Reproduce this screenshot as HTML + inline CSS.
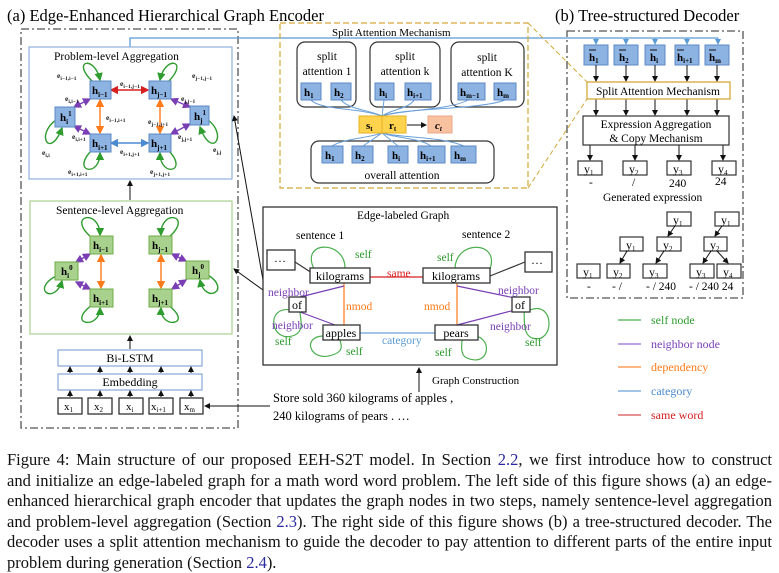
<!DOCTYPE html>
<html><head><meta charset="utf-8"><style>
body{margin:0;background:#fff;width:779px;height:572px;overflow:hidden;position:relative;font-family:"Liberation Serif",serif}
svg{position:absolute;left:0;top:0}
.cap{position:absolute;left:7px;top:450px;width:765px;font-size:16.5px;line-height:20.5px;color:#111}
.cap div{text-align:justify;text-align-last:justify;white-space:normal;height:20.5px;overflow:visible}
.cap div.last{text-align-last:left}
.cap span{color:#2a2aa0}
text{font-family:"Liberation Serif",serif}
</style></head><body>
<svg width="779" height="450" viewBox="0 0 779 450">
<defs>
<marker id="ak" markerWidth="6" markerHeight="6" refX="5" refY="3" orient="auto"><path d="M0,0 L6,3 L0,6z" fill="#111"/></marker>
<marker id="ab" markerWidth="6" markerHeight="6" refX="5" refY="3" orient="auto"><path d="M0,0 L6,3 L0,6z" fill="#5b9bd5"/></marker>
<marker id="ag" markerWidth="6" markerHeight="6" refX="5" refY="3" orient="auto"><path d="M0,0 L6,3 L0,6z" fill="#2e9c2e"/></marker>
<marker id="ap" markerWidth="6" markerHeight="6" refX="5" refY="3" orient="auto-start-reverse"><path d="M0,0 L6,3 L0,6z" fill="#7a3fb5"/></marker>
<marker id="ao" markerWidth="6" markerHeight="6" refX="5" refY="3" orient="auto-start-reverse"><path d="M0,0 L6,3 L0,6z" fill="#ff7a1a"/></marker>
<marker id="ar" markerWidth="6" markerHeight="6" refX="5" refY="3" orient="auto-start-reverse"><path d="M0,0 L6,3 L0,6z" fill="#d62020"/></marker>
<marker id="abl" markerWidth="6" markerHeight="6" refX="5" refY="3" orient="auto-start-reverse"><path d="M0,0 L6,3 L0,6z" fill="#4a8ad0"/></marker>
</defs>
<text x="7" y="21" font-size="16.5">(a) Edge-Enhanced Hierarchical Graph Encoder</text>
<text x="555" y="21" font-size="16.5">(b) Tree-structured Decoder</text>

<rect x="21" y="29" width="217" height="399" fill="none" stroke="#555" stroke-width="1.3" stroke-dasharray="8,3,2,3"/>
<polyline points="130,47 130,38 718,38" fill="none" stroke="#5b9bd5" stroke-width="1.3"/>
<g stroke="#5b9bd5" stroke-width="1" marker-end="url(#ab)">
<line x1="596" y1="38" x2="596" y2="44"/><line x1="626" y1="38" x2="626" y2="44"/><line x1="655" y1="38" x2="655" y2="44"/><line x1="687" y1="38" x2="687" y2="44"/><line x1="718" y1="38" x2="718" y2="44"/>
</g>

<rect x="29" y="47" width="203" height="132" fill="none" stroke="#8fb0e0" stroke-width="1.2"/>
<text x="54" y="60" font-size="11.5">Problem-level Aggregation</text>
<g fill="none" stroke-width="1.4">
<path d="M93 82 C70 60,95 55,100 80" stroke="#2e9c2e" marker-end="url(#ag)"/>
<path d="M168 82 C190 60,165 55,160 80" stroke="#2e9c2e" marker-end="url(#ag)"/>
<path d="M56 120 C35 135,50 160,62 128" stroke="#2e9c2e" marker-end="url(#ag)"/>
<path d="M208 120 C228 135,212 160,200 127" stroke="#2e9c2e" marker-end="url(#ag)"/>
<path d="M92 150 C70 172,100 178,100 153" stroke="#2e9c2e" marker-end="url(#ag)"/>
<path d="M168 150 C190 172,160 178,160 153" stroke="#2e9c2e" marker-end="url(#ag)"/>
<line x1="90" y1="99" x2="74" y2="107" stroke="#7a3fb5" marker-start="url(#ap)" marker-end="url(#ap)"/>
<line x1="74" y1="126" x2="90" y2="134" stroke="#7a3fb5" marker-start="url(#ap)" marker-end="url(#ap)"/>
<line x1="171" y1="99" x2="190" y2="107" stroke="#7a3fb5" marker-start="url(#ap)" marker-end="url(#ap)"/>
<line x1="190" y1="124" x2="171" y2="134" stroke="#7a3fb5" marker-start="url(#ap)" marker-end="url(#ap)"/>
<line x1="100" y1="100" x2="100" y2="133" stroke="#ff7a1a" marker-start="url(#ao)" marker-end="url(#ao)"/>
<line x1="160" y1="100" x2="160" y2="133" stroke="#ff7a1a" marker-start="url(#ao)" marker-end="url(#ao)"/>
<line x1="111" y1="90" x2="148" y2="90" stroke="#d62020" marker-start="url(#ar)" marker-end="url(#ar)"/>
<line x1="111" y1="143" x2="148" y2="143" stroke="#4a8ad0" marker-start="url(#abl)" marker-end="url(#abl)"/>
</g>
<g fill="#8db3e2" stroke="#5b8ac4"><rect x="90" y="81" width="21" height="18"/><rect x="149" y="81" width="22" height="18"/><rect x="55" y="107" width="20" height="20"/><rect x="190" y="106" width="19" height="19"/><rect x="90" y="134" width="21" height="18"/><rect x="149" y="134" width="22" height="18"/></g>
<g font-size="11" font-weight="bold">
<text x="92" y="94">h<tspan font-size="7" dy="3">i−1</tspan></text><text x="151" y="94">h<tspan font-size="7" dy="3">j−1</tspan></text>
<text x="60" y="121">h<tspan font-size="7" dy="3">i</tspan><tspan font-size="7" dy="-8">1</tspan></text><text x="194" y="120">h<tspan font-size="7" dy="3">j</tspan><tspan font-size="7" dy="-8">1</tspan></text>
<text x="92" y="147">h<tspan font-size="7" dy="3">i+1</tspan></text><text x="151" y="147">h<tspan font-size="7" dy="3">j+1</tspan></text>
</g>
<g font-size="7.5" font-weight="bold" fill="#222">
<text x="57" y="78">e<tspan font-size="5.5" dy="2">i−1,i−1</tspan></text>
<text x="192" y="78">e<tspan font-size="5.5" dy="2">j−1,j−1</tspan></text>
<text x="120" y="86">e<tspan font-size="5.5" dy="2">i−1,j−1</tspan></text>
<text x="65" y="101">e<tspan font-size="5.5" dy="2">i,i−1</tspan></text>
<text x="181" y="101">e<tspan font-size="5.5" dy="2">j,j−1</tspan></text>
<text x="106" y="120">e<tspan font-size="5.5" dy="2">i−1,i+1</tspan></text>
<text x="148" y="124">e<tspan font-size="5.5" dy="2">j−1,j+1</tspan></text>
<text x="72" y="139">e<tspan font-size="5.5" dy="2">i,i+1</tspan></text>
<text x="178" y="139">e<tspan font-size="5.5" dy="2">j,j+1</tspan></text>
<text x="120" y="154">e<tspan font-size="5.5" dy="2">i+1,j+1</tspan></text>
<text x="42" y="155">e<tspan font-size="5.5" dy="2">i,i</tspan></text>
<text x="213" y="152">e<tspan font-size="5.5" dy="2">j,j</tspan></text>
<text x="68" y="174">e<tspan font-size="5.5" dy="2">i+1,i+1</tspan></text>
<text x="150" y="174">e<tspan font-size="5.5" dy="2">j+1,j+1</tspan></text>
</g>
<line x1="130" y1="200" x2="130" y2="181" stroke="#111" marker-end="url(#ak)"/>

<rect x="30" y="201" width="202" height="133" fill="none" stroke="#a9d18e" stroke-width="1.2"/>
<text x="56" y="214" font-size="11.5">Sentence-level Aggregation</text>
<g fill="none" stroke-width="1.4">
<path d="M92 238 C65 215,100 208,100 235" stroke="#2e9c2e" marker-end="url(#ag)"/>
<path d="M168 238 C195 215,160 208,161 235" stroke="#2e9c2e" marker-end="url(#ag)"/>
<path d="M56 276 C30 290,55 305,62 281" stroke="#2e9c2e" marker-end="url(#ag)"/>
<path d="M208 275 C232 290,205 305,200 280" stroke="#2e9c2e" marker-end="url(#ag)"/>
<path d="M92 305 C65 325,100 330,100 308" stroke="#2e9c2e" marker-end="url(#ag)"/>
<path d="M168 305 C195 325,160 330,161 308" stroke="#2e9c2e" marker-end="url(#ag)"/>
<line x1="90" y1="254" x2="76" y2="262" stroke="#7a3fb5" marker-start="url(#ap)" marker-end="url(#ap)"/>
<line x1="76" y1="282" x2="90" y2="289" stroke="#7a3fb5" marker-start="url(#ap)" marker-end="url(#ap)"/>
<line x1="172" y1="254" x2="186" y2="261" stroke="#7a3fb5" marker-start="url(#ap)" marker-end="url(#ap)"/>
<line x1="186" y1="280" x2="172" y2="289" stroke="#7a3fb5" marker-start="url(#ap)" marker-end="url(#ap)"/>
<line x1="101" y1="255" x2="101" y2="288" stroke="#ff7a1a" marker-start="url(#ao)" marker-end="url(#ao)"/>
<line x1="161" y1="255" x2="161" y2="288" stroke="#ff7a1a" marker-start="url(#ao)" marker-end="url(#ao)"/>
</g>
<g fill="#a9d18e" stroke="#70ad47"><rect x="90" y="236" width="23" height="18"/><rect x="149" y="236" width="23" height="18"/><rect x="55" y="262" width="23" height="18"/><rect x="186" y="261" width="23" height="18"/><rect x="90" y="289" width="23" height="18"/><rect x="149" y="289" width="23" height="18"/></g>
<g font-size="11" font-weight="bold">
<text x="93" y="249">h<tspan font-size="7" dy="3">i−1</tspan></text><text x="152" y="249">h<tspan font-size="7" dy="3">j−1</tspan></text>
<text x="61" y="275">h<tspan font-size="7" dy="3">i</tspan><tspan font-size="7" dy="-8">0</tspan></text><text x="192" y="274">h<tspan font-size="7" dy="3">j</tspan><tspan font-size="7" dy="-8">0</tspan></text>
<text x="93" y="302">h<tspan font-size="7" dy="3">i+1</tspan></text><text x="152" y="302">h<tspan font-size="7" dy="3">j+1</tspan></text>
</g>
<line x1="130" y1="349" x2="130" y2="336" stroke="#111" marker-end="url(#ak)"/>
<rect x="58" y="350" width="144" height="16" fill="#fff" stroke="#6f93d0"/>
<text x="130" y="362" font-size="12" text-anchor="middle">Bi-LSTM</text>
<rect x="58" y="374" width="144" height="16" fill="#fff" stroke="#6f93d0"/>
<text x="130" y="386" font-size="12" text-anchor="middle">Embedding</text>
<g stroke="#111" marker-end="url(#ak)">
<line x1="70" y1="373" x2="70" y2="367"/><line x1="100" y1="373" x2="100" y2="367"/><line x1="130" y1="373" x2="130" y2="367"/><line x1="161" y1="373" x2="161" y2="367"/><line x1="191" y1="373" x2="191" y2="367"/>
<line x1="70" y1="397" x2="70" y2="391"/><line x1="100" y1="397" x2="100" y2="391"/><line x1="130" y1="397" x2="130" y2="391"/><line x1="161" y1="397" x2="161" y2="391"/><line x1="191" y1="397" x2="191" y2="391"/>
</g>
<g fill="#fff" stroke="#333" stroke-width="1.3"><rect x="58" y="398" width="24" height="16"/><rect x="88" y="398" width="24" height="16"/><rect x="119" y="398" width="24" height="16"/><rect x="149" y="398" width="24" height="16"/><rect x="180" y="398" width="23" height="16"/></g>
<g font-size="11"><text x="64" y="410">x<tspan font-size="7" dy="2">1</tspan></text><text x="94" y="410">x<tspan font-size="7" dy="2">2</tspan></text><text x="126" y="410">x<tspan font-size="7" dy="2">i</tspan></text><text x="151" y="410">x<tspan font-size="7" dy="2">i+1</tspan></text><text x="184" y="410">x<tspan font-size="7" dy="2">m</tspan></text></g>
<line x1="270" y1="406" x2="205" y2="406" stroke="#111" marker-end="url(#ak)"/>
<text x="273" y="402" font-size="12.5">Store sold 360 kilograms of apples ,</text>
<text x="273" y="420" font-size="12.5">240 kilograms of pears . …</text>
<line x1="419" y1="392" x2="419" y2="368" stroke="#111" marker-end="url(#ak)"/>
<text x="432" y="384" font-size="11">Graph Construction</text>
<line x1="263" y1="280" x2="234" y2="116" stroke="#111" marker-end="url(#ak)"/>
<line x1="263" y1="290" x2="234" y2="269" stroke="#111" marker-end="url(#ak)"/>

<rect x="280" y="23" width="248" height="165" fill="none" stroke="#d4a83a" stroke-width="1.2" stroke-dasharray="6,3"/>
<line x1="528" y1="23" x2="587" y2="82" stroke="#d4a83a" stroke-dasharray="5,3"/>
<line x1="528" y1="188" x2="587" y2="99" stroke="#d4a83a" stroke-dasharray="5,3"/>
<text x="332" y="36" font-size="11">Split Attention Mechanism</text>
<g fill="none" stroke="#333" stroke-width="1.2"><rect x="297" y="42" width="59" height="65" rx="8"/><rect x="370" y="42" width="70" height="65" rx="8"/><rect x="451" y="42" width="73" height="65" rx="8"/><rect x="311" y="141" width="183" height="42" rx="8"/></g>
<g font-size="11.5" text-anchor="middle"><text x="327" y="60">split</text><text x="327" y="75">attention 1</text><text x="405" y="60">split</text><text x="405" y="75">attention k</text><text x="487" y="61">split</text><text x="487" y="76">attention K</text><text x="402" y="179">overall attention</text></g>
<g fill="none" stroke="#6aa0d8" stroke-width="1">
<path d="M311 100 C320 110,360 108,382 116"/><path d="M341 100 C350 110,370 110,382 116"/><path d="M384 100 L382 116"/><path d="M414 100 C410 108,390 110,382 116"/><path d="M468 100 C450 110,400 110,382 116"/><path d="M505 100 C480 110,400 108,382 116"/>
<path d="M332 146 C345 138,370 138,382 133"/><path d="M363 146 L382 133"/><path d="M398 146 L382 133"/><path d="M431 146 C420 138,395 138,382 133"/><path d="M464 146 C440 136,400 138,382 133"/>
</g>
<g fill="#8db3e2" stroke="#5b8ac4"><rect x="301" y="83" width="20" height="17"/><rect x="331" y="83" width="20" height="17"/><rect x="375" y="83" width="19" height="17"/><rect x="405" y="83" width="26" height="17"/><rect x="458" y="83" width="27" height="17"/><rect x="494" y="83" width="22" height="17"/>
<rect x="322" y="146" width="21" height="17"/><rect x="352" y="146" width="21" height="17"/><rect x="388" y="146" width="20" height="17"/><rect x="418" y="146" width="27" height="17"/><rect x="451" y="146" width="25" height="17"/></g>
<g font-size="11" font-weight="bold">
<text x="304" y="96">h<tspan font-size="7" dy="2">1</tspan></text><text x="334" y="96">h<tspan font-size="7" dy="2">2</tspan></text><text x="379" y="96">h<tspan font-size="7" dy="2">i</tspan></text><text x="407" y="96">h<tspan font-size="7" dy="2">i+1</tspan></text><text x="460" y="96">h<tspan font-size="7" dy="2">m−1</tspan></text><text x="497" y="96">h<tspan font-size="7" dy="2">m</tspan></text>
<text x="325" y="159">h<tspan font-size="7" dy="2">1</tspan></text><text x="355" y="159">h<tspan font-size="7" dy="2">2</tspan></text><text x="392" y="159">h<tspan font-size="7" dy="2">i</tspan></text><text x="420" y="159">h<tspan font-size="7" dy="2">i+1</tspan></text><text x="454" y="159">h<tspan font-size="7" dy="2">m</tspan></text>
</g>
<rect x="359" y="116" width="23" height="17" fill="#ffd34d" stroke="#e6b020"/><rect x="382" y="116" width="24" height="17" fill="#ffd34d" stroke="#e6b020"/>
<rect x="428" y="116" width="24" height="17" fill="#f8c1a0" stroke="#e8a888"/>
<text x="366" y="129" font-size="11" font-weight="bold">s<tspan font-size="7" dy="2">t</tspan></text><text x="389" y="129" font-size="11" font-weight="bold">r<tspan font-size="7" dy="2">t</tspan></text><text x="435" y="129" font-size="11" font-weight="bold" font-style="italic">c<tspan font-size="7" dy="2">t</tspan></text>
<line x1="407" y1="125" x2="426" y2="125" stroke="#111" marker-end="url(#ak)"/>

<rect x="567" y="31" width="176" height="267" fill="none" stroke="#555" stroke-width="1.3" stroke-dasharray="8,3,2,3"/>
<g fill="#8db3e2" stroke="#5b8ac4"><rect x="584" y="45" width="24" height="20"/><rect x="614" y="45" width="24" height="20"/><rect x="645" y="45" width="20" height="20"/><rect x="675" y="45" width="24" height="20"/><rect x="705" y="45" width="24" height="20"/></g>
<g font-size="11" font-weight="bold"><text x="589" y="61">h<tspan font-size="7" dy="2">1</tspan></text><text x="619" y="61">h<tspan font-size="7" dy="2">2</tspan></text><text x="650" y="61">h<tspan font-size="7" dy="2">i</tspan></text><text x="677" y="61">h<tspan font-size="7" dy="2">i+1</tspan></text><text x="709" y="61">h<tspan font-size="7" dy="2">m</tspan></text></g>
<g stroke="#111" stroke-width="1"><line x1="589" y1="50" x2="596" y2="50"/><line x1="619" y1="50" x2="626" y2="50"/><line x1="650" y1="50" x2="657" y2="50"/><line x1="677" y1="50" x2="684" y2="50"/><line x1="709" y1="50" x2="716" y2="50"/></g>
<g stroke="#111" marker-end="url(#ak)">
<line x1="596" y1="65" x2="596" y2="81"/><line x1="626" y1="65" x2="626" y2="81"/><line x1="655" y1="65" x2="655" y2="81"/><line x1="687" y1="65" x2="687" y2="81"/><line x1="717" y1="65" x2="717" y2="81"/>
<line x1="596" y1="99" x2="596" y2="115"/><line x1="626" y1="99" x2="626" y2="115"/><line x1="655" y1="99" x2="655" y2="115"/><line x1="687" y1="99" x2="687" y2="115"/><line x1="717" y1="99" x2="717" y2="115"/>
<line x1="590" y1="145" x2="590" y2="160"/><line x1="635" y1="145" x2="635" y2="160"/><line x1="679" y1="145" x2="679" y2="160"/><line x1="723" y1="145" x2="723" y2="160"/>
</g>
<rect x="587" y="82" width="143" height="17" fill="#fff" stroke="#d4a83a" stroke-width="1.3"/>
<text x="658" y="95" font-size="11.5" text-anchor="middle">Split Attention Mechanism</text>
<rect x="583" y="116" width="146" height="29" fill="#fff" stroke="#333" stroke-width="1.2"/>
<text x="656" y="128" font-size="11.5" text-anchor="middle">Expression Aggregation</text>
<text x="656" y="142" font-size="11.5" text-anchor="middle">&amp; Copy Mechanism</text>
<g fill="#fff" stroke="#333" stroke-width="1.2">
<rect x="578" y="161" width="24" height="14"/><rect x="623" y="161" width="24" height="14"/><rect x="667" y="161" width="24" height="14"/><rect x="712" y="161" width="24" height="14"/>
<rect x="667" y="212" width="24" height="14"/><rect x="715" y="212" width="24" height="14"/>
<rect x="620" y="237" width="23" height="14"/><rect x="657" y="237" width="24" height="14"/><rect x="704" y="237" width="23" height="14"/>
<rect x="577" y="264" width="23" height="14"/><rect x="607" y="264" width="23" height="14"/><rect x="643" y="264" width="24" height="14"/><rect x="690" y="264" width="24" height="14"/><rect x="717" y="264" width="24" height="14"/>
</g>
<g stroke="#111" marker-end="url(#ak)">
<line x1="675" y1="226" x2="668" y2="236"/><line x1="722" y1="226" x2="715" y2="236"/><line x1="627" y1="251" x2="620" y2="263"/><line x1="664" y1="251" x2="656" y2="263"/><line x1="711" y1="251" x2="703" y2="263"/><line x1="717" y1="251" x2="728" y2="263"/>
</g>
<g font-size="12">
<text x="584" y="173">y<tspan font-size="7" dy="2">1</tspan></text><text x="629" y="173">y<tspan font-size="7" dy="2">2</tspan></text><text x="673" y="173">y<tspan font-size="7" dy="2">3</tspan></text><text x="718" y="173">y<tspan font-size="7" dy="2">4</tspan></text>
<text x="673" y="224">y<tspan font-size="7" dy="2">1</tspan></text><text x="721" y="224">y<tspan font-size="7" dy="2">1</tspan></text>
<text x="626" y="249">y<tspan font-size="7" dy="2">1</tspan></text><text x="663" y="249">y<tspan font-size="7" dy="2">2</tspan></text><text x="710" y="249">y<tspan font-size="7" dy="2">2</tspan></text>
<text x="583" y="276">y<tspan font-size="7" dy="2">1</tspan></text><text x="613" y="276">y<tspan font-size="7" dy="2">2</tspan></text><text x="649" y="276">y<tspan font-size="7" dy="2">3</tspan></text><text x="696" y="276">y<tspan font-size="7" dy="2">3</tspan></text><text x="723" y="276">y<tspan font-size="7" dy="2">4</tspan></text>
</g>
<g font-size="11.5">
<text x="589" y="186">-</text><text x="632" y="186">/</text><text x="669" y="187">240</text><text x="715" y="185">24</text>
<text x="603" y="201">Generated expression</text>
<text x="587" y="290">-</text><text x="612" y="290">- /</text><text x="646" y="290">- / 240</text><text x="689" y="290">- / 240 24</text>
</g>

<rect x="263" y="207" width="294" height="158" fill="none" stroke="#333" stroke-width="1.3"/>
<text x="357" y="219" font-size="11.5">Edge-labeled Graph</text>
<text x="296" y="239" font-size="11.5">sentence 1</text>
<text x="462" y="238" font-size="11.5">sentence 2</text>
<g fill="none" stroke-width="1.2">
<path d="M314 269 C300 240,345 240,345 268" stroke="#4caf50"/>
<path d="M455 269 C455 240,500 240,490 269" stroke="#4caf50"/>
<path d="M291 310 C265 305,270 345,295 335 C305 330,300 318,300 312" stroke="#4caf50"/>
<path d="M530 310 C555 300,555 345,532 338 C522 334,525 318,524 312" stroke="#4caf50"/>
<path d="M325 336 C300 335,310 365,335 354 C345 350,340 342,340 340" stroke="#4caf50"/>
<path d="M470 335 C495 335,490 370,465 357 C460 352,462 345,462 340" stroke="#4caf50"/>
<line x1="370" y1="277" x2="423" y2="277" stroke="#d62020"/>
<line x1="344" y1="283" x2="344" y2="325" stroke="#ff7a1a"/>
<line x1="457" y1="283" x2="457" y2="325" stroke="#ff7a1a"/>
<line x1="344" y1="286" x2="296" y2="298" stroke="#7a3fb5"/>
<line x1="300" y1="312" x2="335" y2="325" stroke="#7a3fb5"/>
<line x1="457" y1="286" x2="515" y2="298" stroke="#7a3fb5"/>
<line x1="515" y1="310" x2="457" y2="325" stroke="#7a3fb5"/>
<line x1="360" y1="333" x2="435" y2="333" stroke="#6aa0d8"/>
<line x1="295" y1="262" x2="312" y2="273" stroke="#333"/>
<line x1="490" y1="276" x2="525" y2="262" stroke="#333"/>
</g>
<g fill="#fff" stroke="#333" stroke-width="1.3">
<rect x="267" y="250" width="28" height="20"/><rect x="525" y="252" width="27" height="20"/>
<rect x="310" y="268" width="60" height="15"/><rect x="423" y="268" width="67" height="15"/>
<rect x="289" y="297" width="17" height="15"/><rect x="512" y="297" width="18" height="15"/>
<rect x="323" y="325" width="37" height="15"/><rect x="435" y="325" width="43" height="15"/>
</g>
<g font-size="12">
<text x="274" y="262">…</text><text x="531" y="264">…</text>
<text x="340" y="280" text-anchor="middle">kilograms</text><text x="456" y="280" text-anchor="middle">kilograms</text>
<text x="292" y="309">of</text><text x="515" y="309">of</text>
<text x="341" y="337" text-anchor="middle">apples</text><text x="456" y="337" text-anchor="middle">pears</text>
</g>
<g font-size="11.5">
<text x="355" y="258" fill="#2e9c2e">self</text><text x="437" y="261" fill="#2e9c2e">self</text>
<text x="387" y="277" fill="#d62020">same</text>
<text x="268" y="296" fill="#7a3fb5">neighbor</text><text x="498" y="294" fill="#7a3fb5">neighbor</text>
<text x="346" y="310" fill="#ff7a1a">nmod</text><text x="424" y="310" fill="#ff7a1a">nmod</text>
<text x="272" y="329" fill="#7a3fb5">neighbor</text><text x="490" y="330" fill="#7a3fb5">neighbor</text>
<text x="275" y="345" fill="#2e9c2e">self</text><text x="525" y="346" fill="#2e9c2e">self</text>
<text x="382" y="344" fill="#5b9bd5">category</text>
<text x="346" y="355" fill="#2e9c2e">self</text><text x="435" y="356" fill="#2e9c2e">self</text>
</g>

<g stroke-width="1.3"><line x1="618" y1="320" x2="641" y2="320" stroke="#4caf50"/><line x1="618" y1="344" x2="641" y2="344" stroke="#9b6bd0"/><line x1="618" y1="367" x2="641" y2="367" stroke="#ff8a3a"/><line x1="618" y1="391" x2="641" y2="391" stroke="#6aa0d8"/><line x1="618" y1="415" x2="641" y2="415" stroke="#d85050"/></g>
<g font-size="12"><text x="651" y="324" fill="#2e9c2e">self node</text><text x="651" y="348" fill="#7a3fb5">neighbor node</text><text x="651" y="371" fill="#ff7a1a">dependency</text><text x="651" y="395" fill="#4a8ad0">category</text><text x="651" y="419" fill="#d62020">same word</text></g>
</svg>
<div class="cap">
<div>Figure 4: Main structure of our proposed EEH-S2T model. In Section <span>2.2</span>, we first introduce how to construct</div>
<div>and initialize an edge-labeled graph for a math word word problem. The left side of this figure shows (a) an edge-</div>
<div>enhanced hierarchical graph encoder that updates the graph nodes in two steps, namely sentence-level aggregation</div>
<div>and problem-level aggregation (Section <span>2.3</span>). The right side of this figure shows (b) a tree-structured decoder. The</div>
<div>decoder uses a split attention mechanism to guide the decoder to pay attention to different parts of the entire input</div>
<div class="last">problem during generation (Section <span>2.4</span>).</div>
</div>
</body></html>
